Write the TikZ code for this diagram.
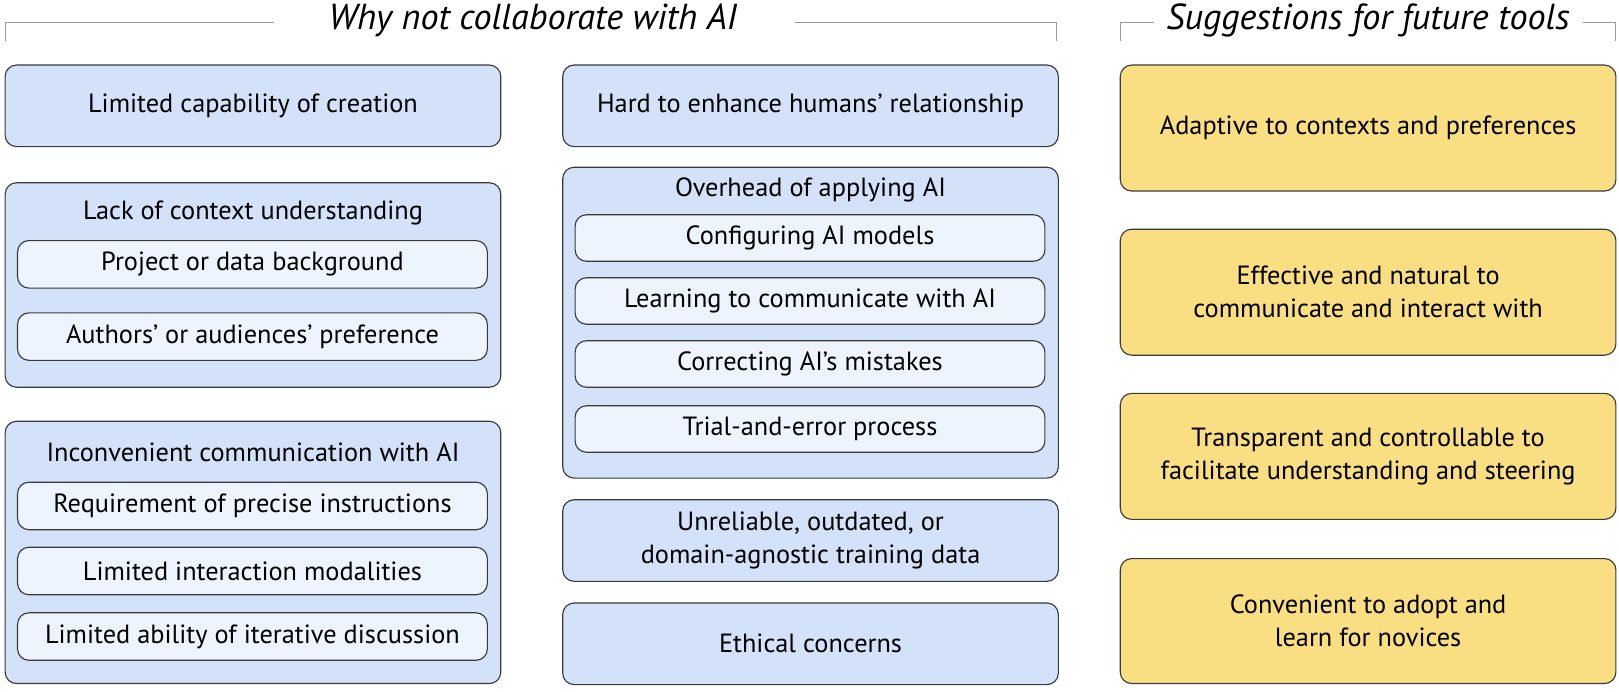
\documentclass[tikz,border=0pt]{standalone}
\usepackage{fontspec}
\setmainfont{PT Sans}
\definecolor{blueout}{HTML}{D3E2F9}
\definecolor{bluein}{HTML}{EEF4FD}
\definecolor{yel}{HTML}{F9DF82}
\definecolor{edge}{HTML}{3A3A3A}
\definecolor{brk}{HTML}{9A9A9A}
\begin{document}
\begin{tikzpicture}[x=1pt,y=-1pt,
  base/.style={draw=edge,line width=1.1pt,rounded corners=11pt,inner sep=0pt,align=center,font=\fontsize{25.5}{32}\selectfont},
  outerbox/.style={base,fill=blueout,minimum width=480pt},
  innerbox/.style={base,fill=bluein,minimum width=455pt,minimum height=46pt},
  sugbox/.style={base,fill=yel,minimum width=480pt,minimum height=122pt},
  grouptitle/.style={font=\fontsize{25.5}{32}\selectfont,inner sep=0pt},
  headtitle/.style={font=\fontsize{35}{40}\selectfont\itshape,inner sep=0pt},
  bracket/.style={draw=brk,line width=0.9pt}]
\useasboundingbox (0,0) rectangle (1568,670);
% headings
\node[headtitle] (h1) at (516,20) {Why not collaborate with AI};
\node[headtitle] (h2) at (1325,20) {Suggestions for future tools};
\coordinate (h1l) at (5,40); \coordinate (h1lt) at (5,22); \coordinate (h1le) at (265,22);
\coordinate (h1rs) at (770,22); \coordinate (h1rt) at (1023,22); \coordinate (h1r) at (1023,40);
\coordinate (h2l) at (1085,40); \coordinate (h2lt) at (1085,22); \coordinate (h2le) at (1118,22);
\coordinate (h2rs) at (1533,22); \coordinate (h2rt) at (1565,22); \coordinate (h2r) at (1565,40);
\draw[bracket] (h1l) -- (h1lt) -- (h1le);
\draw[bracket] (h1rs) -- (h1rt) -- (h1r);
\draw[bracket] (h2l) -- (h2lt) -- (h2le);
\draw[bracket] (h2rs) -- (h2rt) -- (h2r);
% column 1
\node[outerbox,minimum height=79pt] (b1) at (245,102.5) {Limited capability of creation};
\node[outerbox,minimum height=198pt] (b2) at (245,276) {};
\node[grouptitle] (b2t) at (245,206) {Lack of context understanding};
\node[innerbox] (b2a) at (244.5,256) {Project or data background};
\node[innerbox] (b2b) at (244.5,326) {Authors' or audiences' preference};
\node[outerbox,minimum height=254pt] (b3) at (245,535) {};
\node[grouptitle] (b3t) at (245,438) {Inconvenient communication with AI};
\node[innerbox] (b3a) at (244.5,490) {Requirement of precise instructions};
\node[innerbox] (b3b) at (244.5,553) {Limited interaction modalities};
\node[innerbox] (b3c) at (244.5,616.5) {Limited ability of iterative discussion};
% column 2
\node[outerbox,minimum height=79pt] (b4) at (785,102.5) {Hard to enhance humans' relationship};
\node[outerbox,minimum height=301pt] (b5) at (785,312.5) {};
\node[grouptitle] (b5t) at (785,184) {Overhead of applying AI};
\node[innerbox,minimum height=45pt] (b5a) at (784.5,230.5) {Configuring AI models};
\node[innerbox,minimum height=45pt] (b5b) at (784.5,291.5) {Learning to communicate with AI};
\node[innerbox,minimum height=45pt] (b5c) at (784.5,352.5) {Correcting AI's mistakes};
\node[innerbox,minimum height=45pt] (b5d) at (784.5,415.5) {Trial-and-error process};
\node[outerbox,minimum height=79pt] (b6) at (785,523.5) {Unreliable, outdated, or\\domain-agnostic training data};
\node[outerbox,minimum height=79pt] (b7) at (785,623.5) {Ethical concerns};
% column 3
\node[sugbox] (s1) at (1325,124) {Adaptive to contexts and preferences};
\node[sugbox] (s2) at (1325,283) {Effective and natural to\\communicate and interact with};
\node[sugbox] (s3) at (1325,442) {Transparent and controllable to\\facilitate understanding and steering};
\node[sugbox,minimum height=121pt] (s4) at (1325,601.5) {Convenient to adopt and\\learn for novices};
\end{tikzpicture}
\end{document}
